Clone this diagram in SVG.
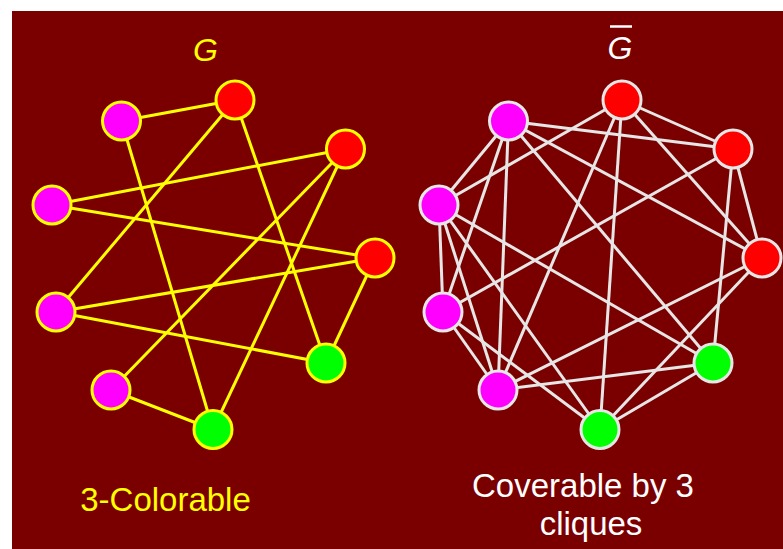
<svg xmlns="http://www.w3.org/2000/svg" width="783" height="549" viewBox="0 0 783 549">
<style>
.bg{fill:#7a0000}
.ey{stroke:#ffff00;stroke-width:3;fill:none}
.ew{stroke:#e6e6e6;stroke-width:3;fill:none}
.ny{stroke:#ffff00;stroke-width:3}
.nw{stroke:#e6e6e6;stroke-width:3}
.m{fill:#ff00ff}.r{fill:#ff0000}.g{fill:#00ff00}
.lbl{font-family:"Liberation Sans",Arial,sans-serif;text-anchor:middle}
</style>
<rect width="783" height="549" fill="#ffffff"/>
<rect class="bg" x="12" y="11" width="771" height="538"/>
<g id="connectors-left">
<line class="ey" x1="121.5" y1="121" x2="235" y2="100"/>
<line class="ey" x1="121.5" y1="121" x2="213" y2="429.5"/>
<line class="ey" x1="235" y1="100" x2="56" y2="312"/>
<line class="ey" x1="235" y1="100" x2="326" y2="363"/>
<line class="ey" x1="345.5" y1="149" x2="52" y2="205"/>
<line class="ey" x1="345.5" y1="149" x2="111" y2="390"/>
<line class="ey" x1="345.5" y1="149" x2="213" y2="429.5"/>
<line class="ey" x1="52" y1="205" x2="375" y2="258"/>
<line class="ey" x1="56" y1="312" x2="375" y2="258"/>
<line class="ey" x1="56" y1="312" x2="326" y2="363"/>
<line class="ey" x1="375" y1="258" x2="326" y2="363"/>
<line class="ey" x1="111" y1="390" x2="213" y2="429.5"/>
</g>
<g id="connectors-right">
<line class="ew" x1="508.5" y1="121" x2="733" y2="149"/>
<line class="ew" x1="508.5" y1="121" x2="762" y2="258"/>
<line class="ew" x1="508.5" y1="121" x2="713" y2="363"/>
<line class="ew" x1="508.5" y1="121" x2="498" y2="390"/>
<line class="ew" x1="508.5" y1="121" x2="443" y2="312"/>
<line class="ew" x1="508.5" y1="121" x2="439" y2="205"/>
<line class="ew" x1="622" y1="100" x2="733" y2="149"/>
<line class="ew" x1="622" y1="100" x2="762" y2="258"/>
<line class="ew" x1="622" y1="100" x2="600" y2="429.5"/>
<line class="ew" x1="622" y1="100" x2="498" y2="390"/>
<line class="ew" x1="622" y1="100" x2="439" y2="205"/>
<line class="ew" x1="733" y1="149" x2="762" y2="258"/>
<line class="ew" x1="733" y1="149" x2="713" y2="363"/>
<line class="ew" x1="733" y1="149" x2="443" y2="312"/>
<line class="ew" x1="762" y1="258" x2="600" y2="429.5"/>
<line class="ew" x1="762" y1="258" x2="498" y2="390"/>
<line class="ew" x1="713" y1="363" x2="600" y2="429.5"/>
<line class="ew" x1="713" y1="363" x2="498" y2="390"/>
<line class="ew" x1="713" y1="363" x2="439" y2="205"/>
<line class="ew" x1="600" y1="429.5" x2="443" y2="312"/>
<line class="ew" x1="600" y1="429.5" x2="439" y2="205"/>
<line class="ew" x1="498" y1="390" x2="443" y2="312"/>
<line class="ew" x1="498" y1="390" x2="439" y2="205"/>
<line class="ew" x1="443" y1="312" x2="439" y2="205"/>
</g>
<g id="L-m1"><circle class="ny m" cx="121.5" cy="121" r="19"/></g>
<g id="L-r1"><circle class="ny r" cx="235" cy="100" r="19"/></g>
<g id="L-r2"><circle class="ny r" cx="345.5" cy="149" r="19"/></g>
<g id="L-r3"><circle class="ny r" cx="375" cy="258" r="19"/></g>
<g id="L-g1"><circle class="ny g" cx="326" cy="363" r="19"/></g>
<g id="L-g2"><circle class="ny g" cx="213" cy="429.5" r="19"/></g>
<g id="L-m4"><circle class="ny m" cx="111" cy="390" r="19"/></g>
<g id="L-m3"><circle class="ny m" cx="56" cy="312" r="19"/></g>
<g id="L-m2"><circle class="ny m" cx="52" cy="205" r="19"/></g>
<g id="R-a"><circle class="nw m" cx="508.5" cy="121" r="19"/></g>
<g id="R-b"><circle class="nw r" cx="622" cy="100" r="19"/></g>
<g id="R-c"><circle class="nw r" cx="733" cy="149" r="19"/></g>
<g id="R-d"><circle class="nw r" cx="762" cy="258" r="19"/></g>
<g id="R-e"><circle class="nw g" cx="713" cy="363" r="19"/></g>
<g id="R-f"><circle class="nw g" cx="600" cy="429.5" r="19"/></g>
<g id="R-g"><circle class="nw m" cx="498" cy="390" r="19"/></g>
<g id="R-h"><circle class="nw m" cx="443" cy="312" r="19"/></g>
<g id="R-i"><circle class="nw m" cx="439" cy="205" r="19"/></g>
<g id="labels">
<text class="lbl" x="205.5" y="61" font-size="32" font-style="italic" fill="#ffff00">G</text>
<text class="lbl" x="620" y="59" font-size="32" font-style="italic" fill="#ffffff">G</text>
<line x1="610" y1="26.5" x2="632" y2="26.5" stroke="#ffffff" stroke-width="2.5"/>
<text class="lbl" x="165.5" y="510.5" font-size="33" fill="#ffff00">3-Colorable</text>
<text class="lbl" x="583" y="497" font-size="33" fill="#ffffff">Coverable by 3</text>
<text class="lbl" x="591" y="534.5" font-size="33" fill="#ffffff">cliques</text>
</g>
</svg>
